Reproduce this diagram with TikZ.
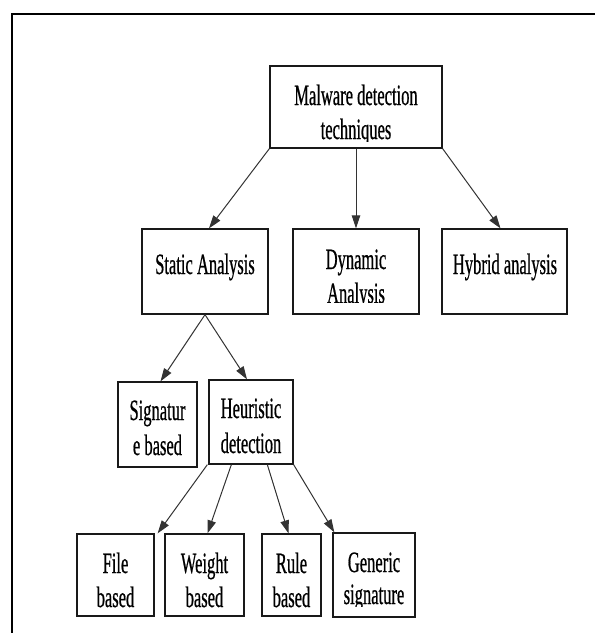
\documentclass[tikz,border=0pt]{standalone}
\usepackage{fontspec}
\setmainfont{Liberation Serif}[FakeStretch=0.56,FakeBold=0.6]
\usetikzlibrary{arrows.meta,calc}
\begin{document}
\begin{tikzpicture}[x=1pt,y=-1pt,
  box/.style={draw=black!90,line width=1.3pt,rectangle,inner sep=0pt},
  lbl/.style={anchor=base,inner sep=0pt,font=\fontsize{29.5}{34}\selectfont,text=black},
  conn/.style={draw=black!80,line width=1pt,-{Triangle[length=13pt,width=8.5pt]}},
  frameline/.style={line width=2.6pt,black}]
\useasboundingbox (0,0) rectangle (595,633);
\draw[frameline] (12,634) -- (12,14) -- (596,14);

% boxes
\node[box,minimum width=172pt,minimum height=82pt] (top) at (356,107) {};
\node[box,minimum width=126pt,minimum height=85pt] (static) at (205,271.5) {};
\node[box,minimum width=126pt,minimum height=85pt] (dyn) at (356,271.5) {};
\node[box,minimum width=125pt,minimum height=85pt] (hyb) at (504.5,271.5) {};
\node[box,minimum width=79pt,minimum height=85pt] (sig) at (157.5,424.5) {};
\node[box,minimum width=84pt,minimum height=84pt] (heur) at (251,422) {};
\node[box,minimum width=77pt,minimum height=82pt] (file) at (115.5,575) {};
\node[box,minimum width=79pt,minimum height=82pt] (weight) at (204.5,575) {};
\node[box,minimum width=59pt,minimum height=82pt] (rule) at (291.5,575) {};
\node[box,minimum width=82pt,minimum height=84pt] (gen) at (374,575) {};

% labels
\node[lbl] (t1) at (356,105) {Malware detection};
\begin{scope}
\clip (270,110) rectangle (442,141);
\node[lbl] (t2) at (356,139) {techniques};
\end{scope}
\node[lbl] (s1) at (205,274) {Static Analysis};
\node[lbl] (d1) at (356,269) {Dynamic};
\begin{scope}
\clip (293,275) rectangle (419,302);
\node[lbl] (d2) at (356,303) {Analysis};
\end{scope}
\node[lbl] (h1) at (505,274) {Hybrid analysis};
\node[lbl] (g1) at (157.5,420) {Signatur};
\node[lbl] (g2) at (157.5,455) {e based};
\node[lbl] (e1) at (251,418) {Heuristic};
\begin{scope}
\clip (209,425) rectangle (293,454);
\node[lbl] (e2) at (251,453) {detection};
\end{scope}
\node[lbl] (f1) at (115.5,573) {File};
\node[lbl] (f2) at (115.5,607) {based};
\node[lbl] (w1) at (204.5,573) {Weight};
\node[lbl] (w2) at (204.5,607) {based};
\node[lbl] (r1) at (291.5,573) {Rule};
\node[lbl] (r2) at (291.5,607) {based};
\node[lbl] (n1) at (374,572) {Generic};
\begin{scope}
\clip (333,578) rectangle (415,606);
\node[lbl] (n2) at (374,604) {signature};
\end{scope}

% connectors
\draw[conn] (top.south west) -- ($(static.north)+(4,0)$);
\draw[conn] (top.south) -- (dyn.north);
\draw[conn] (top.south east) -- ($(hyb.north)+(-4,0)$);
\draw[conn] (static.south) -- ($(sig.north)+(3,0)$);
\draw[conn] (static.south) -- ($(heur.north)+(-4,0)$);
\draw[conn] ($(heur.south west)+(-1,0)$) -- ($(file.north east)+(3,0)$);
\draw[conn] ($(heur.south west)+(23,0)$) -- ($(weight.north)+(3,0)$);
\draw[conn] ($(heur.south west)+(59,0)$) -- ($(rule.north)+(-3,0)$);
\draw[conn] (heur.south east) -- ($(gen.north west)+(2,0)$);
\end{tikzpicture}
\end{document}
